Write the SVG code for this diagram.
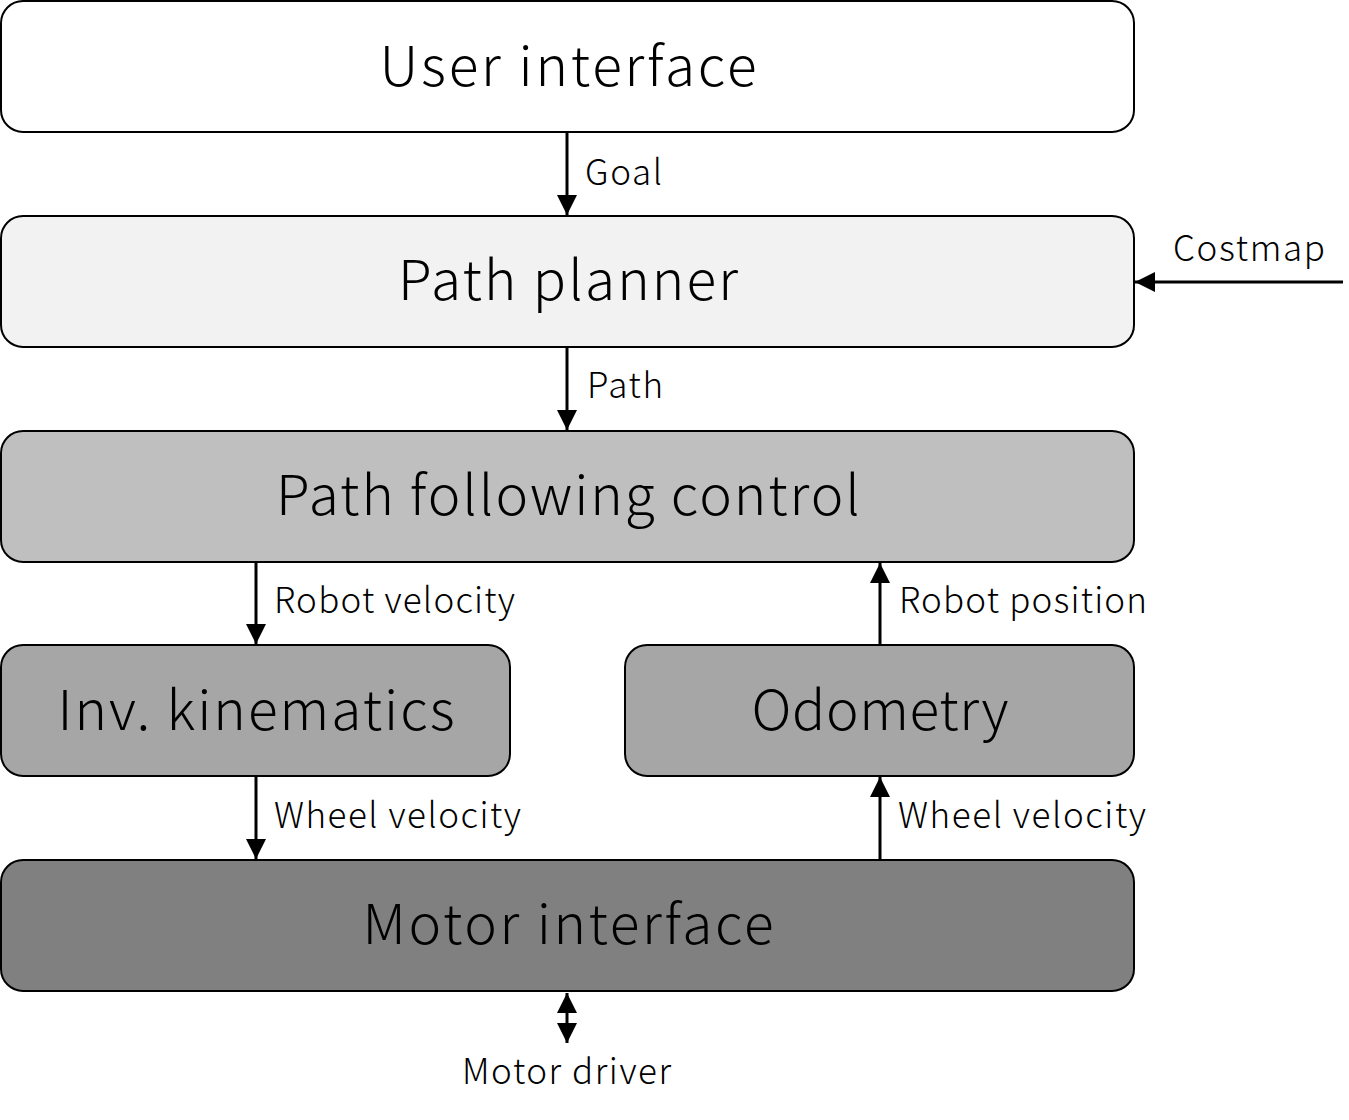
<svg xmlns="http://www.w3.org/2000/svg" width="1349" height="1120" viewBox="0 0 1349 1120">
<style>
.box{stroke:#000;stroke-width:2}
.big{font-family:"Noto Sans CJK JP","Noto Sans",sans-serif;font-weight:300;font-size:55px;fill:#000;text-anchor:middle}
.lbl{font-family:"Noto Sans CJK JP","Noto Sans",sans-serif;font-weight:300;font-size:35px;fill:#000}
.c{stroke:#000;stroke-width:3;fill:none}
</style>
<defs>
<marker id="ah" viewBox="0 0 20 20" refX="20" refY="10" markerWidth="20" markerHeight="20" markerUnits="userSpaceOnUse" orient="auto">
<path d="M0,0 L20,10 L0,20 Z" fill="#000"/>
</marker>
<marker id="as" viewBox="0 0 20 20" refX="0" refY="10" markerWidth="20" markerHeight="20" markerUnits="userSpaceOnUse" orient="auto">
<path d="M20,0 L0,10 L20,20 Z" fill="#000"/>
</marker>
</defs>
<rect width="1349" height="1120" fill="#fff"/>
<g id="user-interface"><rect class="box" x="1" y="1" width="1133" height="131" rx="22" fill="#fff"/><text class="big" x="568" y="86" textLength="377" lengthAdjust="spacing">User interface</text></g>
<g id="path-planner"><rect class="box" x="1" y="216" width="1133" height="131" rx="22" fill="#f2f2f2"/><text class="big" x="568" y="300" textLength="340" lengthAdjust="spacing">Path planner</text></g>
<g id="path-following"><rect class="box" x="1" y="431" width="1133" height="131" rx="22" fill="#bfbfbf"/><text class="big" x="568" y="515" textLength="584" lengthAdjust="spacing">Path following control</text></g>
<g id="inv-kinematics"><rect class="box" x="1" y="645" width="509" height="131" rx="22" fill="#a6a6a6"/><text class="big" x="256" y="730" textLength="397" lengthAdjust="spacing">Inv. kinematics</text></g>
<g id="odometry"><rect class="box" x="625" y="645" width="509" height="131" rx="22" fill="#a6a6a6"/><text class="big" x="880" y="730" textLength="257" lengthAdjust="spacing">Odometry</text></g>
<g id="motor-interface"><rect class="box" x="1" y="860" width="1133" height="131" rx="22" fill="#808080"/><text class="big" x="568" y="944" textLength="411" lengthAdjust="spacing">Motor interface</text></g>
<g id="connectors">
<line class="c" x1="567" y1="133" x2="567" y2="215" marker-end="url(#ah)"/>
<line class="c" x1="1343" y1="282" x2="1135" y2="282" marker-end="url(#ah)"/>
<line class="c" x1="567" y1="348" x2="567" y2="430" marker-end="url(#ah)"/>
<line class="c" x1="256" y1="563" x2="256" y2="644" marker-end="url(#ah)"/>
<line class="c" x1="880" y1="644" x2="880" y2="563" marker-end="url(#ah)"/>
<line class="c" x1="256" y1="777" x2="256" y2="859" marker-end="url(#ah)"/>
<line class="c" x1="880" y1="859" x2="880" y2="777" marker-end="url(#ah)"/>
<line class="c" x1="567" y1="993" x2="567" y2="1043" marker-start="url(#as)" marker-end="url(#ah)"/>
</g>
<g id="labels">
<text class="lbl" x="585" y="185" textLength="77" lengthAdjust="spacing">Goal</text>
<text class="lbl" x="1173" y="261" textLength="152" lengthAdjust="spacing">Costmap</text>
<text class="lbl" x="587" y="398" textLength="76" lengthAdjust="spacing">Path</text>
<text class="lbl" x="274" y="613" textLength="241" lengthAdjust="spacing">Robot velocity</text>
<text class="lbl" x="899" y="613" textLength="248" lengthAdjust="spacing">Robot position</text>
<text class="lbl" x="274" y="828" textLength="247" lengthAdjust="spacing">Wheel velocity</text>
<text class="lbl" x="898" y="828" textLength="248" lengthAdjust="spacing">Wheel velocity</text>
<text class="lbl" x="462" y="1084" textLength="209" lengthAdjust="spacing">Motor driver</text>
</g>
</svg>
